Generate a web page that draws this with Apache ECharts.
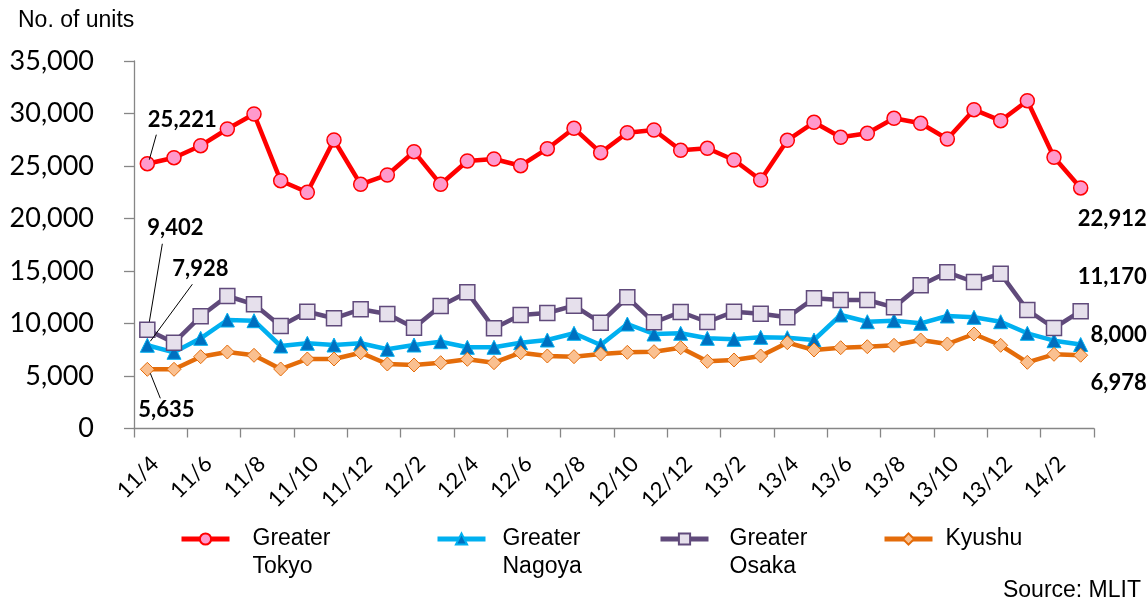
<!DOCTYPE html>
<html>
<head>
<meta charset="utf-8">
<script src="https://cdn.jsdelivr.net/npm/echarts@6/dist/echarts.min.js"></script>
<style>
  html, body { margin: 0; padding: 0; background: #ffffff; }
  #chart { width: 1147px; height: 603px; }
</style>
</head>
<body>
<div id="chart"></div>
<script>
// Monthly housing starts, April 2011 - March 2014 (units)
const months = [
  '11/4', '11/5', '11/6', '11/7', '11/8', '11/9', '11/10', '11/11', '11/12', '12/1', '12/2', '12/3',
  '12/4', '12/5', '12/6', '12/7', '12/8', '12/9', '12/10', '12/11', '12/12', '13/1', '13/2', '13/3',
  '13/4', '13/5', '13/6', '13/7', '13/8', '13/9', '13/10', '13/11', '13/12', '14/1', '14/2', '14/3'
];

const greaterTokyo = [
  25221, 25790, 26933, 28524, 29952, 23600, 22495, 27476, 23257, 24143, 26362, 23257,
  25476, 25667, 25029, 26648, 28590, 26267, 28171, 28429, 26495, 26686, 25571, 23667,
  27448, 29162, 27733, 28114, 29543, 29067, 27571, 30362, 29314, 31219, 25829, 22912
];

const greaterNagoya = [
  7928, 7257, 8590, 10333, 10267, 7857, 8114, 7952, 8114, 7543, 7952, 8267,
  7733, 7733, 8171, 8429, 9067, 7952, 9952, 9000, 9067, 8590, 8495, 8686,
  8648, 8429, 10810, 10171, 10267, 10019, 10714, 10590, 10171, 9067, 8362, 8000
];

const greaterOsaka = [
  9402, 8171, 10686, 12619, 11829, 9762, 11124, 10495, 11352, 10905, 9600, 11667,
  12971, 9543, 10810, 11000, 11695, 10076, 12495, 10114, 11095, 10143, 11124, 10933,
  10590, 12400, 12238, 12238, 11543, 13638, 14876, 13952, 14743, 11286, 9571, 11170
];

const kyushu = [
  5635, 5638, 6838, 7286, 6971, 5667, 6619, 6619, 7219, 6143, 6048, 6267,
  6590, 6267, 7219, 6905, 6838, 7095, 7257, 7314, 7695, 6400, 6524, 6905,
  8171, 7476, 7695, 7790, 7924, 8429, 8048, 9000, 7924, 6305, 7067, 6978
];

const seriesNames = ['Greater Tokyo', 'Greater Nagoya', 'Greater Osaka', 'Kyushu'];
// legend captions; the leading blank line keeps the first word level with the icon
const legendTexts = [' \nGreater\nTokyo', ' \nGreater\nNagoya', ' \nGreater\nOsaka', 'Kyushu'];

const fmt = v => Number(v).toLocaleString('en-US');

// label offsets from the marker centre: [dx, dy, align] for first and last points
const labelOffsets = [
  { first: [35, -44, 'center'], last: [66, 31, 'right'] },
  { first: [53, -76, 'center'], last: [66, -10, 'right'] },
  { first: [28, -102, 'center'], last: [66, -34, 'right'] },
  { first: [19, 41, 'center'], last: [66, 28, 'right'] }
];

// leader lines for the first-point labels: start and end offsets from the marker centre
const leaderOffsets = [
  [[2, -4], [9, -29]],
  [[3, -4], [45, -61]],
  [[2, -8], [15, -86]],
  [[3, 4], [13, 29]]
];

function withEndLabels(values) {
  const last = values.length - 1;
  return values.map((v, i) => {
    if (i === 0 || i === last) {
      return { value: v, label: { show: true } };
    }
    return v;
  });
}

function placeLabel(offsets) {
  return function (p) {
    const o = p.dataIndex === 0 ? offsets.first : offsets.last;
    const cx = p.rect.x + p.rect.width / 2;
    const cy = p.rect.y + p.rect.height / 2;
    return { x: cx + o[0], y: cy + o[1], align: o[2], verticalAlign: 'middle' };
  };
}

const styles = [
  { line: '#FF0000', fill: '#FF99CC', border: '#FF0000', symbol: 'circle', size: 14, bw: 1.5 },
  { line: '#00B0F0', fill: '#0070C0', border: '#00B0F0', symbol: 'triangle', size: 14, bw: 1 },
  { line: '#604A7B', fill: '#E6E0EC', border: '#604A7B', symbol: 'rect', size: 15, bw: 1.5 },
  { line: '#E46C0A', fill: '#FAC090', border: '#E46C0A', symbol: 'diamond', size: 14, bw: 1 }
];

const allValues = [greaterTokyo, greaterNagoya, greaterOsaka, kyushu];

const series = allValues.map((vals, k) => ({
  name: seriesNames[k],
  type: 'line',
  data: withEndLabels(vals),
  symbol: styles[k].symbol,
  symbolSize: styles[k].size,
  showSymbol: true,
  showAllSymbol: true,
  lineStyle: { color: styles[k].line, width: 4.5 },
  itemStyle: { color: styles[k].fill, borderColor: styles[k].border, borderWidth: styles[k].bw },
  emphasis: { disabled: true },
  label: {
    show: false,
    formatter: p => fmt(p.value),
    fontFamily: 'Lato',
    fontWeight: 'bold',
    fontSize: 22,
    color: '#000000'
  },
  labelLayout: placeLabel(labelOffsets[k]),
  z: 2 + k
}));

// one legend block per series so each can sit at its own spot
const legendLefts = [179, 435, 658, 882];
const legendTextGap = [18, 12, 16, 8];
const legends = seriesNames.map((name, k) => {
  const multiLine = legendTexts[k].indexOf('\n') >= 0;
  return {
    data: [name],
    left: legendLefts[k],
    top: multiLine ? 497 : 525,
    padding: 0,
    itemWidth: 48,
    itemHeight: 14,
    selectedMode: false,
    lineStyle: { width: 5 },
    formatter: () => legendTexts[k],
    textStyle: {
      fontFamily: 'Liberation Sans',
      fontSize: 23,
      lineHeight: 28,
      color: '#000000',
      padding: [0, 0, 0, legendTextGap[k]]
    }
  };
});

const option = {
  animation: false,
  backgroundColor: '#ffffff',
  title: [
    {
      text: 'No. of units',
      left: 13, top: 4,
      textStyle: { fontFamily: 'Liberation Sans', fontSize: 23, fontWeight: 'normal', color: '#000000' }
    },
    {
      text: 'Source: MLIT',
      right: 1, bottom: -4,
      textStyle: { fontFamily: 'Liberation Sans', fontSize: 23, fontWeight: 'normal', color: '#000000' }
    }
  ],
  legend: legends,
  grid: { left: 134, right: 53, top: 61, bottom: 174.5, containLabel: false },
  xAxis: {
    type: 'category',
    data: months,
    boundaryGap: true,
    axisLine: { lineStyle: { color: '#868686', width: 1.3 } },
    axisTick: { show: true, interval: 1, length: 9, lineStyle: { color: '#868686', width: 1.3 } },
    axisLabel: {
      interval: 1,
      rotate: 45,
      margin: 24,
      verticalAlign: 'top',
      fontFamily: 'Lato',
      fontSize: 22,
      color: '#000000'
    },
    splitLine: { show: false }
  },
  yAxis: {
    type: 'value',
    min: 0,
    max: 35000,
    interval: 5000,
    axisLine: { show: true, lineStyle: { color: '#868686', width: 1.3 } },
    axisTick: { show: true, length: 10, lineStyle: { color: '#868686', width: 1.3 } },
    axisLabel: {
      margin: 40,
      formatter: v => fmt(v),
      fontFamily: 'Lato',
      fontSize: 27,
      color: '#000000'
    },
    splitLine: { show: false }
  },
  series: series
};

const chart = echarts.init(document.getElementById('chart'));
chart.setOption(option);

// leader lines from the first markers to their value labels, placed through the axis scales
const leaders = allValues.map((vals, k) => {
  const p = chart.convertToPixel({ gridIndex: 0 }, [0, vals[0]]);
  const [s, e] = leaderOffsets[k];
  return {
    type: 'line',
    silent: true,
    z: 20,
    shape: { x1: p[0] + s[0], y1: p[1] + s[1], x2: p[0] + e[0], y2: p[1] + e[1] },
    style: { stroke: '#000000', lineWidth: 1 }
  };
});
chart.setOption({ graphic: leaders });
</script>
</body>
</html>
